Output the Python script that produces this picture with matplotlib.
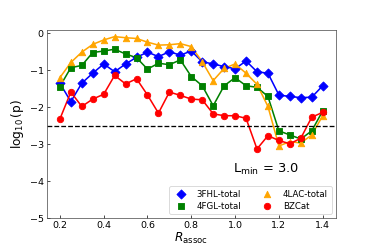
import matplotlib
matplotlib.use("Agg")
import matplotlib.pyplot as plt
import numpy as np

r_assoc = [0.2, 0.25, 0.3, 0.35, 0.4, 0.45, 0.5, 0.55, 0.6, 0.65, 0.7, 0.75, 0.8,
           0.85, 0.9, 0.95, 1.0, 1.05, 1.1, 1.15, 1.2, 1.25, 1.3, 1.35, 1.4]

fhl3 = [-1.35, -1.85, -1.35, -1.08, -0.83, -1.04, -0.83, -0.65, -0.51, -0.63, -0.50, -0.59, -0.48,
        -0.77, -0.83, -0.90, -0.96, -0.75, -1.04, -1.08, -1.67, -1.71, -1.74, -1.73, -1.42]
fgl4 = [-1.44, -0.93, -0.87, -0.52, -0.48, -0.43, -0.56, -0.66, -0.97, -0.81, -0.85, -0.72, -1.17,
        -1.42, -1.96, -1.42, -1.20, -1.42, -1.46, -1.71, -2.64, -2.75, -2.86, -2.64, -2.10]
lac4 = [-1.20, -0.79, -0.51, -0.30, -0.18, -0.09, -0.12, -0.14, -0.24, -0.32, -0.31, -0.28, -0.36,
        -0.77, -1.28, -0.95, -0.83, -1.08, -1.38, -1.98, -3.05, -2.93, -2.97, -2.75, -2.23]
bzcat = [-2.32, -1.59, -1.98, -1.78, -1.65, -1.14, -1.37, -1.23, -1.67, -2.16, -1.59, -1.68, -1.78,
         -1.80, -2.18, -2.23, -2.23, -2.30, -3.13, -2.77, -2.90, -2.99, -2.84, -2.27, -2.14]

threshold = -2.52

fig = plt.figure(figsize=(6, 4), dpi=62.33)
ax = fig.add_subplot(111)
fig.subplots_adjust(left=0.125, right=0.898, top=0.88, bottom=0.124)

series = [
    (fhl3, 'blue', 'D', '3FHL-total'),
    (fgl4, 'green', 's', '4FGL-total'),
    (lac4, 'orange', '^', '4LAC-total'),
    (bzcat, 'red', 'o', 'BZCat'),
]
for vals, col, mk, lab in series:
    ax.plot(r_assoc, vals, color=col, lw=1.8)
    ax.scatter(r_assoc, vals, color=col, marker=mk, s=55, label=lab, zorder=3)

ax.axhline(threshold, color='black', ls='--', lw=1.5)

ax.set_xlim(0.14, 1.46)
ax.set_ylim(-5, 0.1)
ax.set_xticks([0.2, 0.4, 0.6, 0.8, 1.0, 1.2, 1.4])
ax.set_yticks([0, -1, -2, -3, -4, -5])
ax.tick_params(direction='in', labelsize=11)
for s in ax.spines.values():
    s.set_color('#444444')

ax.set_xlabel(r'$R_{\rm assoc}$', fontsize=14, labelpad=1)
ax.set_ylabel(r'$\log_{10}$(p)', fontsize=14)
ax.text(1.14, -3.68, r'L$_{\rm min}$ = 3.0', fontsize=15, ha='center', va='center')

ax.legend(loc='lower right', ncol=2, fontsize=10, labelspacing=0.3,
          handletextpad=0.8, columnspacing=2.0)

fig.savefig('out.png', dpi=62.33)
